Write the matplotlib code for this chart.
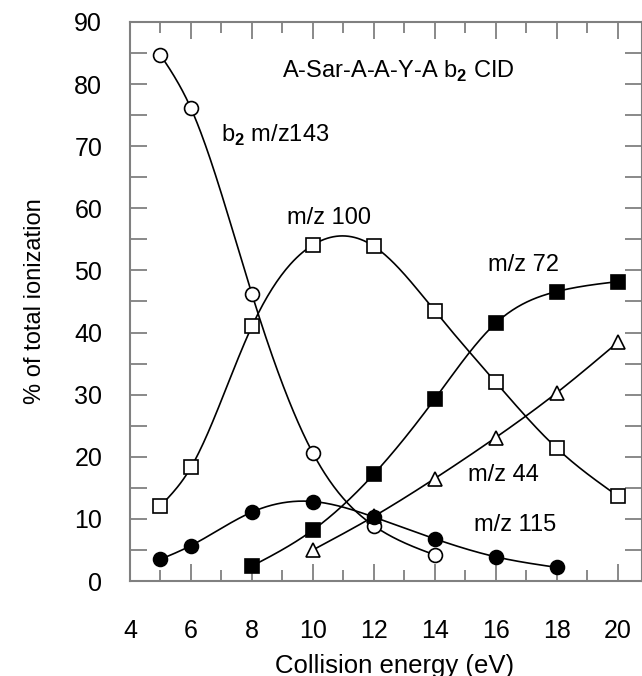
import numpy as np
import matplotlib
matplotlib.use("Agg")
import matplotlib.pyplot as plt
from matplotlib.ticker import MultipleLocator

plt.rcParams['font.family'] = ['Liberation Sans', 'DejaVu Sans']
plt.rcParams['mathtext.fontset'] = 'custom'
plt.rcParams['mathtext.rm'] = 'Liberation Sans'
plt.rcParams['mathtext.bf'] = 'Liberation Sans:bold'

# data
x_b2 = [5, 6, 8, 10, 12, 14]
y_b2 = [84.7, 76.1, 46.2, 20.6, 8.9, 4.2]

x_100 = [5, 6, 8, 10, 12, 14, 16, 18, 20]
y_100 = [12.1, 18.3, 41.0, 54.1, 53.9, 43.5, 32.0, 21.4, 13.7]

x_72 = [8, 10, 12, 14, 16, 18, 20]
y_72 = [2.4, 8.2, 17.2, 29.3, 41.5, 46.6, 48.2]

x_44 = [10, 12, 14, 16, 18, 20]
y_44 = [5.0, 10.4, 16.5, 23.1, 30.3, 38.4]

x_115 = [5, 6, 8, 10, 12, 14, 16, 18]
y_115 = [3.5, 5.7, 11.1, 12.8, 10.3, 6.8, 3.9, 2.2]


def smooth(x, y, n=300):
    # natural cubic spline through the points, only for drawing the line
    x = np.asarray(x, float)
    y = np.asarray(y, float)
    k = len(x)
    h = np.diff(x)
    A = np.zeros((k, k))
    b = np.zeros(k)
    A[0, 0] = A[-1, -1] = 1
    for i in range(1, k - 1):
        A[i, i - 1] = h[i - 1]
        A[i, i] = 2 * (h[i - 1] + h[i])
        A[i, i + 1] = h[i]
        b[i] = 6 * ((y[i + 1] - y[i]) / h[i] - (y[i] - y[i - 1]) / h[i - 1])
    M = np.linalg.solve(A, b)
    xs = np.linspace(x[0], x[-1], n)
    j = np.clip(np.searchsorted(x, xs) - 1, 0, k - 2)
    t1 = x[j + 1] - xs
    t0 = xs - x[j]
    hj = h[j]
    ys = (M[j] * t1**3 + M[j + 1] * t0**3) / (6 * hj) \
        + (y[j] / hj - M[j] * hj / 6) * t1 + (y[j + 1] / hj - M[j + 1] * hj / 6) * t0
    return xs, ys


fig = plt.figure(figsize=(6.42, 6.76), dpi=100)
ax = fig.add_axes([0.2025, 0.1405, 0.7975, 0.827])

series = [
    (x_b2, y_b2, 'o', 'white'),
    (x_100, y_100, 's', 'white'),
    (x_72, y_72, 's', 'black'),
    (x_44, y_44, '^', 'white'),
    (x_115, y_115, 'o', 'black'),
]
for xx, yy, m, fc in series:
    xs, ys = smooth(xx, yy)
    ax.plot(xs, ys, color='black', lw=1.2, zorder=2)
    ax.plot(xx, yy, ls='none', marker=m, ms=10, mfc=fc, mec='black', mew=1.2, zorder=3)

ax.set_xlim(4, 20.8)
ax.set_ylim(0, 90)
ax.xaxis.set_major_locator(MultipleLocator(2))
ax.xaxis.set_minor_locator(MultipleLocator(1))
ax.yaxis.set_major_locator(MultipleLocator(10))
ax.yaxis.set_minor_locator(MultipleLocator(5))

gray = '#808080'
for s in ax.spines.values():
    s.set_color(gray)
    s.set_linewidth(1.5)
ax.tick_params(which='both', direction='in', top=True, right=True, color=gray, width=1.3)
ax.tick_params(axis='x', which='major', length=12, pad=27, labelsize=18)
ax.tick_params(axis='x', which='minor', length=8)
ax.tick_params(axis='y', which='both', length=12)
ax.tick_params(axis='y', which='major', pad=20, labelsize=18)

ax.set_xlabel('Collision energy (eV)', fontsize=18.5)
ax.xaxis.set_label_coords(0.516, -0.131)
ax.set_ylabel('% of total ionization', fontsize=17, labelpad=20)

fs = 17
ax.text(9.0, 82, r'A-Sar-A-A-Y-A b$_\mathbf{2}$ CID', fontsize=fs, va='center')
ax.text(7.0, 71.8, r'b$_\mathbf{2}$ m/z143', fontsize=fs, va='center')
ax.text(9.15, 58.5, 'm/z 100', fontsize=fs, va='center')
ax.text(15.75, 50.9, 'm/z 72', fontsize=fs, va='center')
ax.text(15.1, 17.0, 'm/z 44', fontsize=fs, va='center')
ax.text(15.3, 9.0, 'm/z 115', fontsize=fs, va='center')

fig.savefig('out.png', dpi=100)
